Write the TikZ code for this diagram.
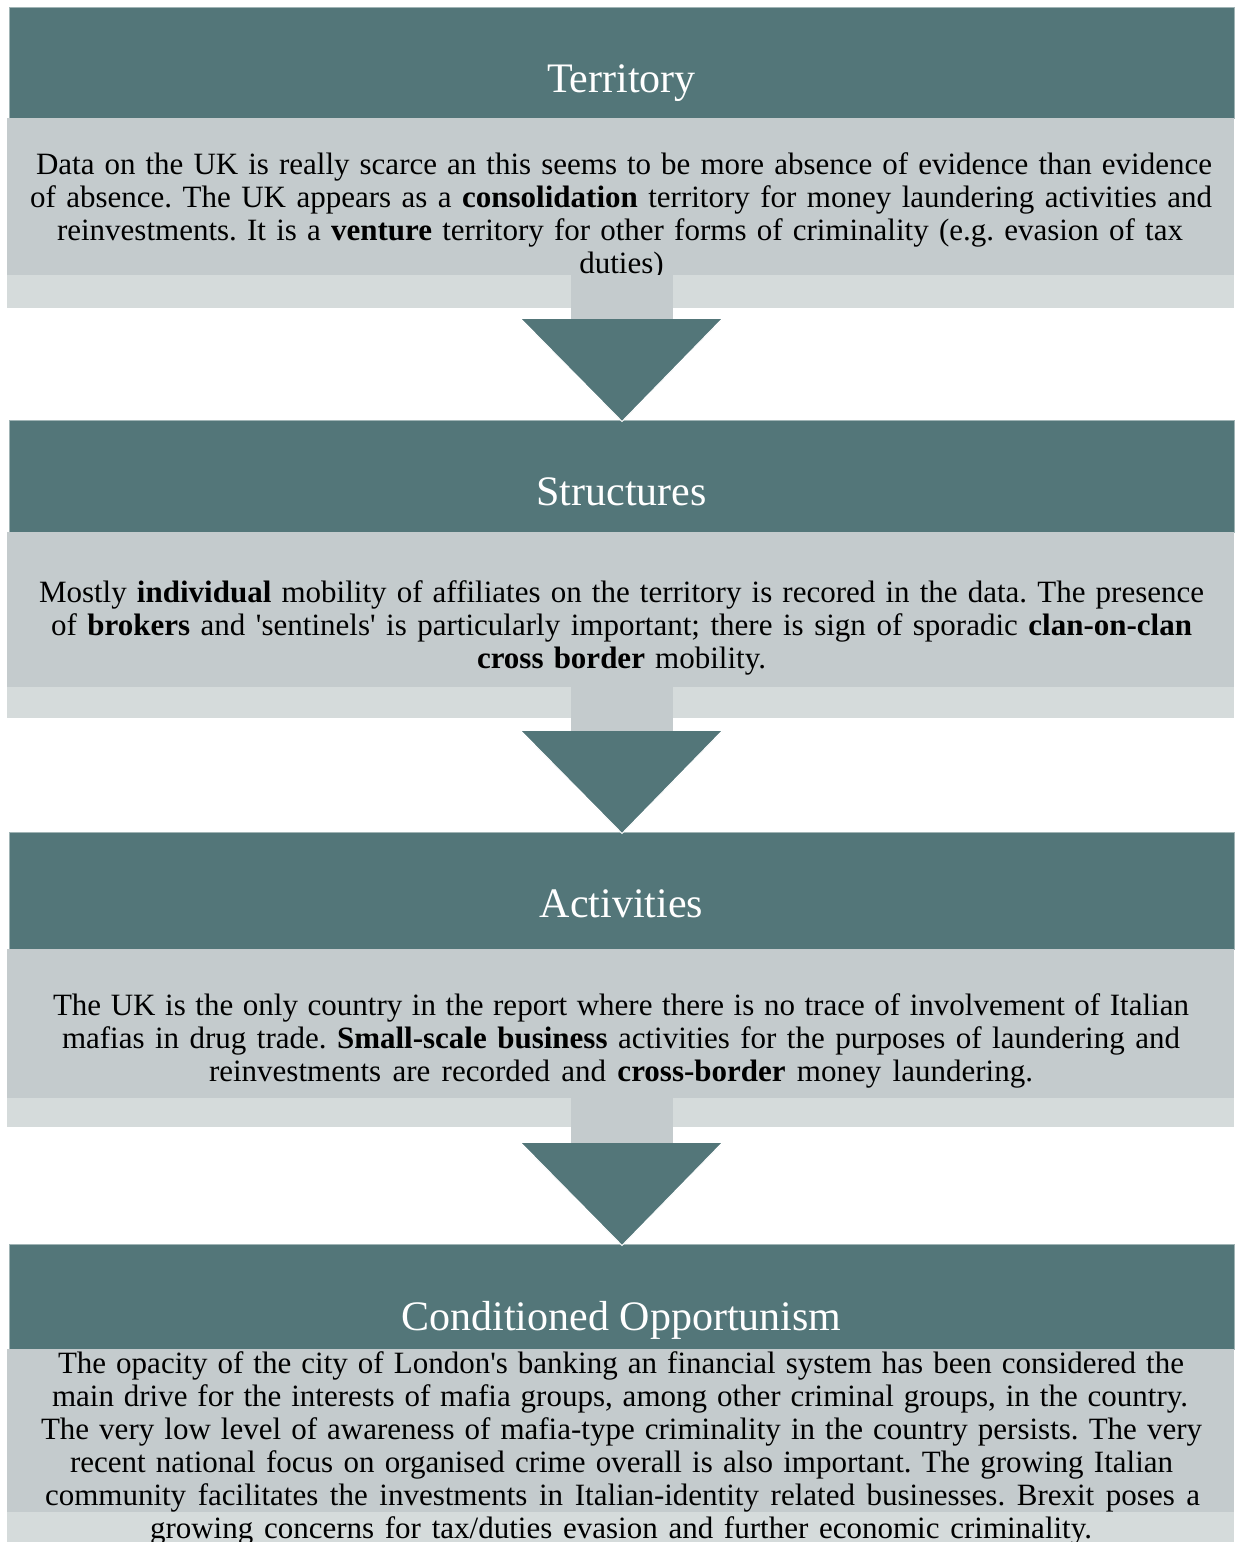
\documentclass[tikz,border=0pt]{standalone}
\usepackage{fontspec}
\setmainfont{Liberation Serif}
\usetikzlibrary{calc}
\definecolor{headc}{HTML}{537679}
\definecolor{bodyc}{HTML}{C4CBCD}
\definecolor{backc}{HTML}{D5DBDB}
\newcommand{\sq}{\textquotesingle}
\frenchspacing
\begin{document}
\begin{tikzpicture}[x=1pt,y=-1pt,
  header/.style={fill=headc, draw=headc!55!white, line width=0.6pt, inner sep=0pt, outer sep=0pt, anchor=north west, minimum width=1225pt},
  backbox/.style={fill=backc, inner sep=0pt, outer sep=0pt, anchor=north west, minimum width=1227pt},
  bodybox/.style={fill=bodyc, inner sep=0pt, outer sep=0pt, anchor=north west, minimum width=1227pt},
  headtext/.style={text=white, inner sep=0pt, anchor=base, font=\fontsize{42}{48}\selectfont},
  bodytext/.style={text=black, inner sep=0pt, anchor=base, font=\fontsize{31}{33}\selectfont\frenchspacing},
  shaft/.style={fill=bodyc},
  tip/.style={fill=headc},
  tipedge/.style={draw=white, line width=1pt}]
\useasboundingbox (0,0) rectangle (1235,1542);
\clip (0,0) rectangle (1235,1542);

% ---------- Territory ----------
\node[header, minimum height=111pt] (h1) at (9,7) {};
\node[backbox, minimum height=190pt] (l1) at (7,118) {};
\node[bodybox, minimum height=157pt] (b1) at (7,118) {};
\node[headtext] (h1t) at (621.5,92) {Territory};
\node[bodytext] (t1a) at (624,174) {\makebox[1176pt][s]{Data on the UK is really scarce an this seems to be more absence of evidence than evidence}};
\node[bodytext] (t1b) at (621,207) {\makebox[1182pt][s]{of absence. The UK appears as a \textbf{consolidation} territory for money laundering activities and}};
\node[bodytext] (t1c) at (620,240) {\makebox[1126pt][s]{reinvestments. It is a \textbf{venture} territory for other forms of criminality (e.g. evasion of tax}};
\node[bodytext] (t1d) at (621.5,273) {duties)};

% ---------- Structures ----------
\node[header, minimum height=112pt] (h2) at (9,420) {};
\node[backbox, minimum height=186pt] (l2) at (7,532) {};
\node[bodybox, minimum height=155pt] (b2) at (7,532) {};
\node[headtext] (h2t) at (621.5,505) {Structures};
\node[bodytext] (t2a) at (621.5,602) {\makebox[1165pt][s]{Mostly \textbf{individual} mobility of affiliates on the territory is recored in the data. The presence}};
\node[bodytext] (t2b) at (621.5,635) {\makebox[1141pt][s]{of \textbf{brokers} and \sq sentinels\sq{} is particularly important; there is sign of sporadic \textbf{clan-on-clan}}};
\node[bodytext] (t2c) at (621.5,668) {\makebox[289pt][s]{\textbf{cross border} mobility.}};

% ---------- Activities ----------
\node[header, minimum height=117pt] (h3) at (9,832) {};
\node[backbox, minimum height=178pt] (l3) at (7,949) {};
\node[bodybox, minimum height=149pt] (b3) at (7,949) {};
\node[headtext] (h3t) at (621.5,917) {Activities};
\node[bodytext] (t3a) at (621,1015) {\makebox[1136pt][s]{The UK is the only country in the report where there is no trace of involvement of Italian}};
\node[bodytext] (t3b) at (621,1048) {\makebox[1118pt][s]{mafias in drug trade. \textbf{Small-scale business} activities for the purposes of laundering and}};
\node[bodytext] (t3c) at (621,1081) {\makebox[824pt][s]{reinvestments are recorded and \textbf{cross-border} money laundering.}};

% ---------- Conditioned Opportunism ----------
\node[header, minimum height=105pt] (h4) at (9,1244) {};
\node[backbox, minimum height=210pt] (l4) at (7,1349) {};
\node[bodybox, minimum height=163pt] (b4) at (7,1349) {};
\node[headtext] (h4t) at (621.5,1330) {Conditioned Opportunism};
\node[bodytext] (t4a) at (621,1373) {\makebox[1126pt][s]{The opacity of the city of London\sq s banking an financial system has been considered the}};
\node[bodytext] (t4b) at (620,1406) {\makebox[1136pt][s]{main drive for the interests of mafia groups, among other criminal groups, in the country.}};
\node[bodytext] (t4c) at (621.5,1439) {\makebox[1161pt][s]{The very low level of awareness of mafia-type criminality in the country persists. The very}};
\node[bodytext] (t4d) at (621.5,1472) {\makebox[1103pt][s]{recent national focus on organised crime overall is also important. The growing Italian}};
\node[bodytext] (t4e) at (622.5,1505) {\makebox[1155pt][s]{community facilitates the investments in Italian-identity related businesses. Brexit poses a}};
\node[bodytext] (t4f) at (621,1538) {\makebox[942pt][s]{growing concerns for tax/duties evasion and further economic criminality.}};

% ---------- Arrows ----------
\fill[shaft] ($(b1.south)+(-49.5,0)$) rectangle ($(b1.south)+(52.5,44)$);
\fill[tip] ($(b1.south)+(-99.5,44)$) -- ($(b1.south)+(101.5,44)$) -- ($(h2.north)+(0.5,1.5)$) -- cycle;
\draw[tipedge] ($(b1.south)+(-99.5,44)$) -- ($(h2.north)+(0.5,1.5)$) -- ($(b1.south)+(101.5,44)$);

\fill[shaft] ($(b2.south)+(-49.5,0)$) rectangle ($(b2.south)+(52.5,44)$);
\fill[tip] ($(b2.south)+(-99.5,44)$) -- ($(b2.south)+(101.5,44)$) -- ($(h3.north)+(0.5,1.5)$) -- cycle;
\draw[tipedge] ($(b2.south)+(-99.5,44)$) -- ($(h3.north)+(0.5,1.5)$) -- ($(b2.south)+(101.5,44)$);

\fill[shaft] ($(b3.south)+(-49.5,0)$) rectangle ($(b3.south)+(52.5,45)$);
\fill[tip] ($(b3.south)+(-99.5,45)$) -- ($(b3.south)+(101.5,45)$) -- ($(h4.north)+(0.5,1.5)$) -- cycle;
\draw[tipedge] ($(b3.south)+(-99.5,45)$) -- ($(h4.north)+(0.5,1.5)$) -- ($(b3.south)+(101.5,45)$);
\end{tikzpicture}
\end{document}
